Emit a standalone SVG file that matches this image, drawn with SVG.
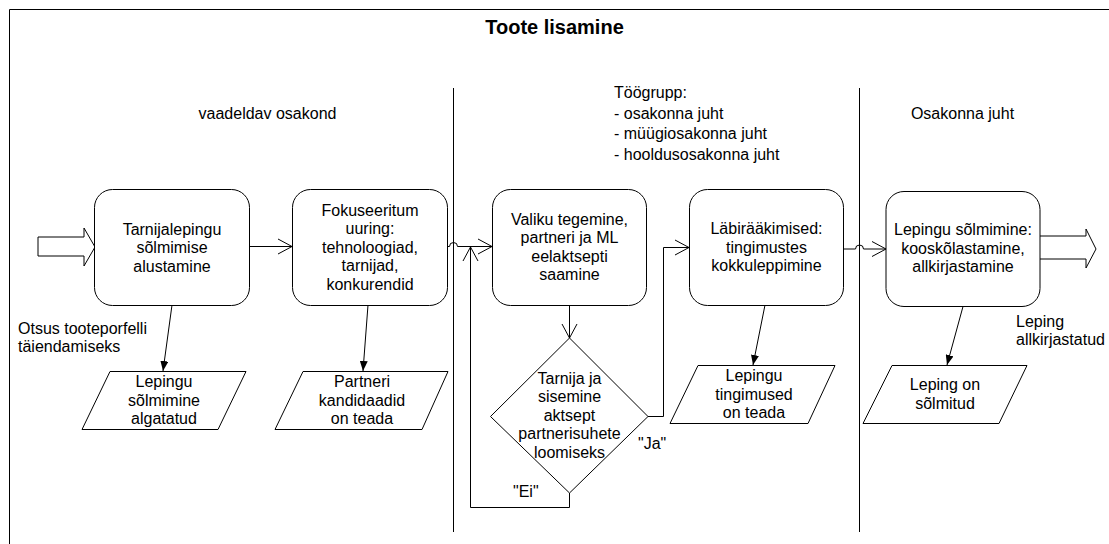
<svg xmlns="http://www.w3.org/2000/svg" width="1109" height="544" viewBox="0 0 1109 544">
  <style>
    .frame { fill: none; stroke: #000; stroke-width: 1; }
    .lane { fill: none; stroke: #000; stroke-width: 1; }
    .box { fill: #fff; stroke: #000; stroke-width: 1; }
    .conn { fill: none; stroke: #000; stroke-width: 1; }
    .big { fill: #fff; stroke: #000; stroke-width: 1; }
    text { font-family: "Liberation Sans", Arial, sans-serif; font-size: 16px; fill: #000; }
    .c { text-anchor: middle; }
    .title { font-size: 20px; font-weight: bold; }
  </style>
  <defs>
    <marker id="open" markerUnits="userSpaceOnUse" markerWidth="16" markerHeight="18" viewBox="0 0 16 18" refX="15" refY="9" orient="auto">
      <path d="M1,1.5 L15,9 L1,16.5" fill="none" stroke="#000" stroke-width="1"/>
    </marker>
    <marker id="solid" markerUnits="userSpaceOnUse" markerWidth="10" markerHeight="8" viewBox="0 0 10 8" refX="10" refY="4" orient="auto">
      <path d="M0,0 L10,4 L0,8 z" fill="#000"/>
    </marker>
  </defs>

  <!-- outer frame and lane dividers -->
  <path class="frame" d="M9.5,544 V9.5 H1109"/>
  <text class="title c" x="554.5" y="34">Toote lisamine</text>
  <line class="lane" x1="453.5" y1="88" x2="453.5" y2="532"/>
  <line class="lane" x1="859.5" y1="88" x2="859.5" y2="532"/>

  <!-- lane headings -->
  <text class="c" x="267.5" y="119">vaadeldav osakond</text>
  <g id="lane-toogrupp">
    <text x="614" y="97.5">Töögrupp:</text>
    <text x="614" y="118.5">- osakonna juht</text>
    <text x="614" y="139">- müügiosakonna juht</text>
    <text x="614" y="159.5">- hooldusosakonna juht</text>
  </g>
  <text class="c" x="962.5" y="119">Osakonna juht</text>

  <!-- connectors -->
  <g id="connectors">
    <polygon class="big" points="38,237 84,237 84,228 95,247 84,266 84,256 38,256"/>
    <path class="big" d="M1040,236 H1086 V229 L1096,249 L1086,268 V259 H1040"/>
    <path class="conn" d="M249,246.5 H292" marker-end="url(#open)"/>
    <path class="conn" d="M447,246.5 H449.5 A4,4 0 0 1 457.5,246.5 H492" marker-end="url(#open)"/>
    <path class="conn" d="M569.5,493 V507.5 H470.5 V247" marker-end="url(#open)"/>
    <path class="conn" d="M569.5,305 V338" marker-end="url(#open)"/>
    <path class="conn" d="M648,416.5 H663.5 V247.5 H689" marker-end="url(#open)"/>
    <path class="conn" d="M843,249 H855.5 A4,4 0 0 1 863.5,249 H886" marker-end="url(#open)"/>
    <path class="conn" d="M172,305 L163,371" marker-end="url(#solid)"/>
    <path class="conn" d="M368,305 L363,371" marker-end="url(#solid)"/>
    <path class="conn" d="M765,305 L753,365" marker-end="url(#solid)"/>
    <path class="conn" d="M963,306.5 L947,365" marker-end="url(#solid)"/>
  </g>

  <!-- process steps -->
  <g id="step-tarnijaleping">
    <rect class="box" x="94.5" y="189.5" width="155" height="116" rx="18"/>
    <text class="c" x="172" y="234.5">Tarnijalepingu</text>
    <text class="c" x="172" y="253">sõlmimise</text>
    <text class="c" x="172" y="271.5">alustamine</text>
  </g>
  <g id="step-uuring">
    <rect class="box" x="292.5" y="189.5" width="155" height="116" rx="18"/>
    <text class="c" x="370" y="215.5">Fokuseeritum</text>
    <text class="c" x="370" y="234">uuring:</text>
    <text class="c" x="370" y="252.5">tehnoloogiad,</text>
    <text class="c" x="370" y="271">tarnijad,</text>
    <text class="c" x="370" y="289.5">konkurendid</text>
  </g>
  <g id="step-valik">
    <rect class="box" x="492.5" y="189.5" width="154" height="116" rx="18"/>
    <text class="c" x="569.5" y="224.5">Valiku tegemine,</text>
    <text class="c" x="569.5" y="243">partneri ja ML</text>
    <text class="c" x="569.5" y="261.5">eelaktsepti</text>
    <text class="c" x="569.5" y="280">saamine</text>
  </g>
  <g id="step-labiraakimised">
    <rect class="box" x="689.5" y="189.5" width="154" height="116" rx="18"/>
    <text class="c" x="766.5" y="234">Läbirääkimised:</text>
    <text class="c" x="766.5" y="252.5">tingimustes</text>
    <text class="c" x="766.5" y="271">kokkuleppimine</text>
  </g>
  <g id="step-solmimine">
    <rect class="box" x="886" y="191.5" width="154" height="115" rx="18"/>
    <text class="c" x="963" y="235">Lepingu sõlmimine:</text>
    <text class="c" x="963" y="253.5">kooskõlastamine,</text>
    <text class="c" x="963" y="272">allkirjastamine</text>
  </g>

  <!-- decision -->
  <g id="decision-aktsept">
    <polygon class="box" points="569.5,338 648,416.5 569.5,493 490.5,416.5"/>
    <text class="c" x="569.5" y="383.5">Tarnija ja</text>
    <text class="c" x="569.5" y="402">sisemine</text>
    <text class="c" x="569.5" y="420.5">aktsept</text>
    <text class="c" x="569.5" y="439">partnerisuhete</text>
    <text class="c" x="569.5" y="457.5">loomiseks</text>
  </g>
  <text id="label-ja" x="638" y="448.5">"Ja"</text>
  <text id="label-ei" x="513" y="497">"Ei"</text>

  <!-- results -->
  <g id="result-algatatud">
    <polygon class="box" points="110,371.5 246,371.5 218,429.5 82,429.5"/>
    <text class="c" x="164" y="387">Lepingu</text>
    <text class="c" x="164" y="405.5">sõlmimine</text>
    <text class="c" x="164" y="424">algatatud</text>
  </g>
  <g id="result-kandidaadid">
    <polygon class="box" points="303,371.5 448,371.5 422,429.5 275,429.5"/>
    <text class="c" x="362" y="387">Partneri</text>
    <text class="c" x="362" y="405.5">kandidaadid</text>
    <text class="c" x="362" y="424">on teada</text>
  </g>
  <g id="result-tingimused">
    <polygon class="box" points="698,365.5 835,365.5 808,423.5 670,423.5"/>
    <text class="c" x="754" y="381">Lepingu</text>
    <text class="c" x="754" y="399.5">tingimused</text>
    <text class="c" x="754" y="418">on teada</text>
  </g>
  <g id="result-solmitud">
    <polygon class="box" points="892,365.5 1027,365.5 999,423.5 863,423.5"/>
    <text class="c" x="945" y="390">Leping on</text>
    <text class="c" x="945" y="408.5">sõlmitud</text>
  </g>

  <!-- trigger and outcome notes -->
  <g id="note-otsus">
    <text x="18" y="333.5">Otsus tooteporfelli</text>
    <text x="18" y="352">täiendamiseks</text>
  </g>
  <g id="note-allkirjastatud">
    <text x="1016" y="326.5">Leping</text>
    <text x="1016" y="345">allkirjastatud</text>
  </g>
</svg>
